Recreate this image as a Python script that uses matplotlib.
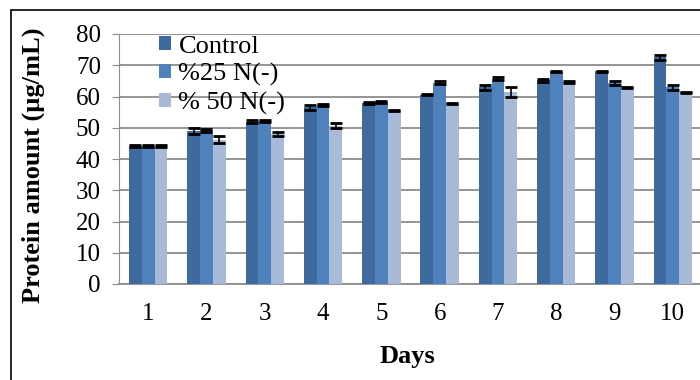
import numpy as np
import matplotlib
matplotlib.use("Agg")
from matplotlib import pyplot as plt
from matplotlib.patches import Rectangle

days = ["1", "2", "3", "4", "5", "6", "7", "8", "9", "10"]
labels = ["Control", "%25 N(-)", "% 50 N(-)"]

control = [44.2, 49.0, 52.0, 56.5, 58.0, 60.6, 63.0, 65.2, 68.1, 72.6]
n25 = [44.2, 49.2, 52.2, 57.3, 58.2, 64.4, 65.7, 68.1, 64.3, 63.0]
n50 = [44.2, 46.2, 48.0, 50.7, 55.5, 57.8, 61.5, 64.7, 63.0, 61.4]

control_err = [0.2, 1.0, 0.6, 0.7, 0.3, 0.2, 0.8, 0.5, 0.2, 0.8]
n25_err = [0.2, 0.4, 0.3, 0.2, 0.4, 0.5, 0.5, 0.2, 0.7, 0.8]
n50_err = [0.2, 1.2, 0.7, 0.8, 0.2, 0.2, 1.5, 0.4, 0.2, 0.2]

colors = ["#3f6a9e", "#4f81bd", "#a9b9d8"]

plt.rcParams["font.family"] = ["Liberation Serif", "DejaVu Serif"]

fig = plt.figure(figsize=(7, 3.8), dpi=100)
ax = fig.add_axes([119 / 700, 1 - 284 / 380, 583 / 700, 250 / 380])

# outer border of the chart (cut off on the right and bottom)
fig.patches.append(Rectangle((11 / 700, -0.1), 1.2, 1.1 - 10 / 380,
                             transform=fig.transFigure, fill=False,
                             edgecolor="black", linewidth=1.2))

x = np.arange(1, len(days) + 1)
w = 0.22
series = [control, n25, n50]
errs = [control_err, n25_err, n50_err]
for i in range(3):
    ax.bar(x + (i - 1) * w, series[i], w, color=colors[i], label=labels[i],
           yerr=errs[i], capsize=4.5,
           error_kw=dict(ecolor="black", elinewidth=1.2, capthick=2),
           zorder=3)

ax.set_xlim(0.5, 10.5)
ax.set_ylim(0, 80)
ax.set_yticks(range(0, 81, 10))
ax.set_xticks(x)
ax.set_xticklabels(days)
ax.yaxis.grid(True, color="#8c8c8c", linewidth=1.3)
ax.set_axisbelow(True)
for s in ["top", "right"]:
    ax.spines[s].set_visible(False)
ax.spines["left"].set_color("#8c8c8c")
ax.spines["bottom"].set_color("#8c8c8c")
ax.spines["bottom"].set_linewidth(1.3)
ax.tick_params(axis="y", colors="#8c8c8c", labelcolor="black", length=5,
               labelsize=18, pad=8)
ax.tick_params(axis="x", length=0, labelsize=18, pad=14)

ax.set_ylabel("Protein amount (µg/mL)", fontsize=19, fontweight="bold")
ax.yaxis.set_label_coords((45 - 119) / 583, 0.476)
ax.set_xlabel("Days", fontsize=19, fontweight="bold")
ax.xaxis.set_label_coords((407 - 119) / 583, -0.244)

ax.legend(loc="upper left", bbox_to_anchor=(0.05, 1.035), frameon=False,
          fontsize=19, handlelength=0.45, handleheight=0.45,
          handletextpad=0.3, labelspacing=0.2, borderaxespad=0)

fig.savefig("out.png", dpi=100)
